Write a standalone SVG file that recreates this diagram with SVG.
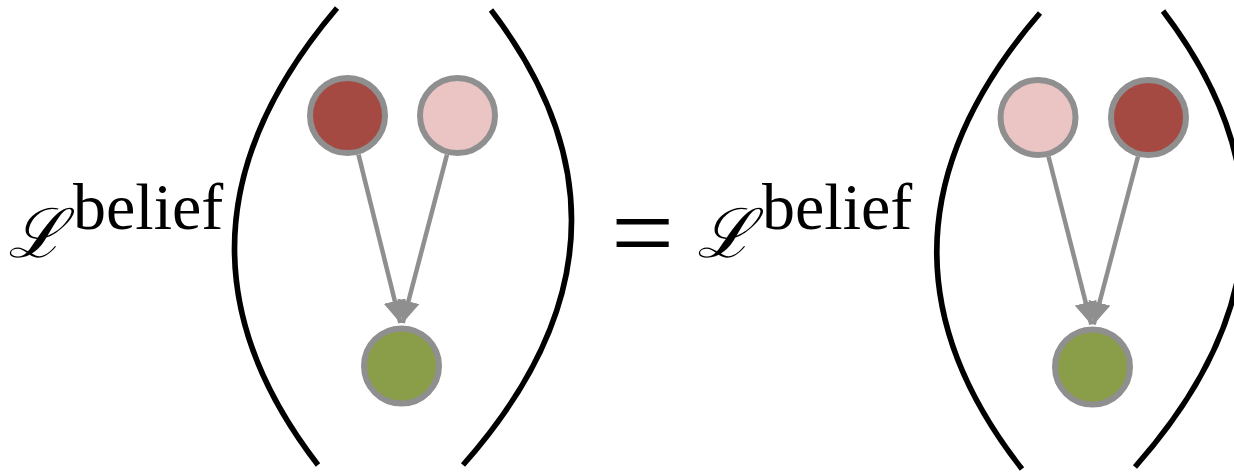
<svg xmlns="http://www.w3.org/2000/svg" width="1234" height="474" viewBox="0 0 1234 474">
<style>
.paren{fill:none;stroke:#000;stroke-width:5.5;stroke-linecap:butt}
.edge{stroke:#8f8f8f;stroke-width:4.5;fill:none}
.node{stroke:#8f8f8f;stroke-width:6}
.red{fill:#a44a42}
.pink{fill:#ebc5c4}
.green{fill:#8a9e4a}
.L{font-family:"DejaVu Serif","Liberation Serif",serif;font-size:68px;font-style:italic;fill:#000}
.sup{font-family:"Liberation Serif",serif;font-size:66px;fill:#000}
.eq{font-family:"Liberation Serif",serif;font-size:112px;fill:#000}
</style>
<defs>
<marker id="arrow" viewBox="0 0 10 10" refX="10" refY="5" markerWidth="5" markerHeight="5" orient="auto" markerUnits="strokeWidth">
<path d="M0,0 L10,5 L0,10 z" fill="#8f8f8f"/>
</marker>
</defs>
<g id="formula-left">
<text class="L" x="8" y="257">ℒ</text>
<text class="sup" x="73" y="229">belief</text>
</g>
<g id="parens-left">
<path class="paren" d="M337,8 Q142,237 318,465"/>
<path class="paren" d="M491,10 Q665,237 463,465"/>
</g>
<g id="eq">
<text class="eq" x="611" y="270">=</text>
</g>
<g id="formula-right">
<text class="L" x="697" y="257">ℒ</text>
<text class="sup" x="762" y="229">belief</text>
</g>
<g id="parens-right">
<path class="paren" d="M1040,13 Q843,241 1022,469"/>
<path class="paren" d="M1163,11 Q1337,239 1135,467"/>
</g>
<g id="connectors">
<path class="edge" d="M358.5,154.6 L400.3,323" marker-end="url(#arrow)"/>
<path class="edge" d="M447,154.6 L402.7,323" marker-end="url(#arrow)"/>
<path class="edge" d="M1048.5,156.5 L1091.3,324.5" marker-end="url(#arrow)"/>
<path class="edge" d="M1138,156.5 L1093.7,324.5" marker-end="url(#arrow)"/>
</g>
<g id="node-a1"><circle class="node red" cx="347.5" cy="115.5" r="37.5"/></g>
<g id="node-b1"><circle class="node pink" cx="457.5" cy="115.5" r="37.5"/></g>
<g id="node-c1"><circle class="node green" cx="401.5" cy="366" r="37.5"/></g>
<g id="node-b2"><circle class="node pink" cx="1038" cy="117.5" r="37.5"/></g>
<g id="node-a2"><circle class="node red" cx="1148.5" cy="117.5" r="37.5"/></g>
<g id="node-c2"><circle class="node green" cx="1092.5" cy="367" r="37.5"/></g>
</svg>
